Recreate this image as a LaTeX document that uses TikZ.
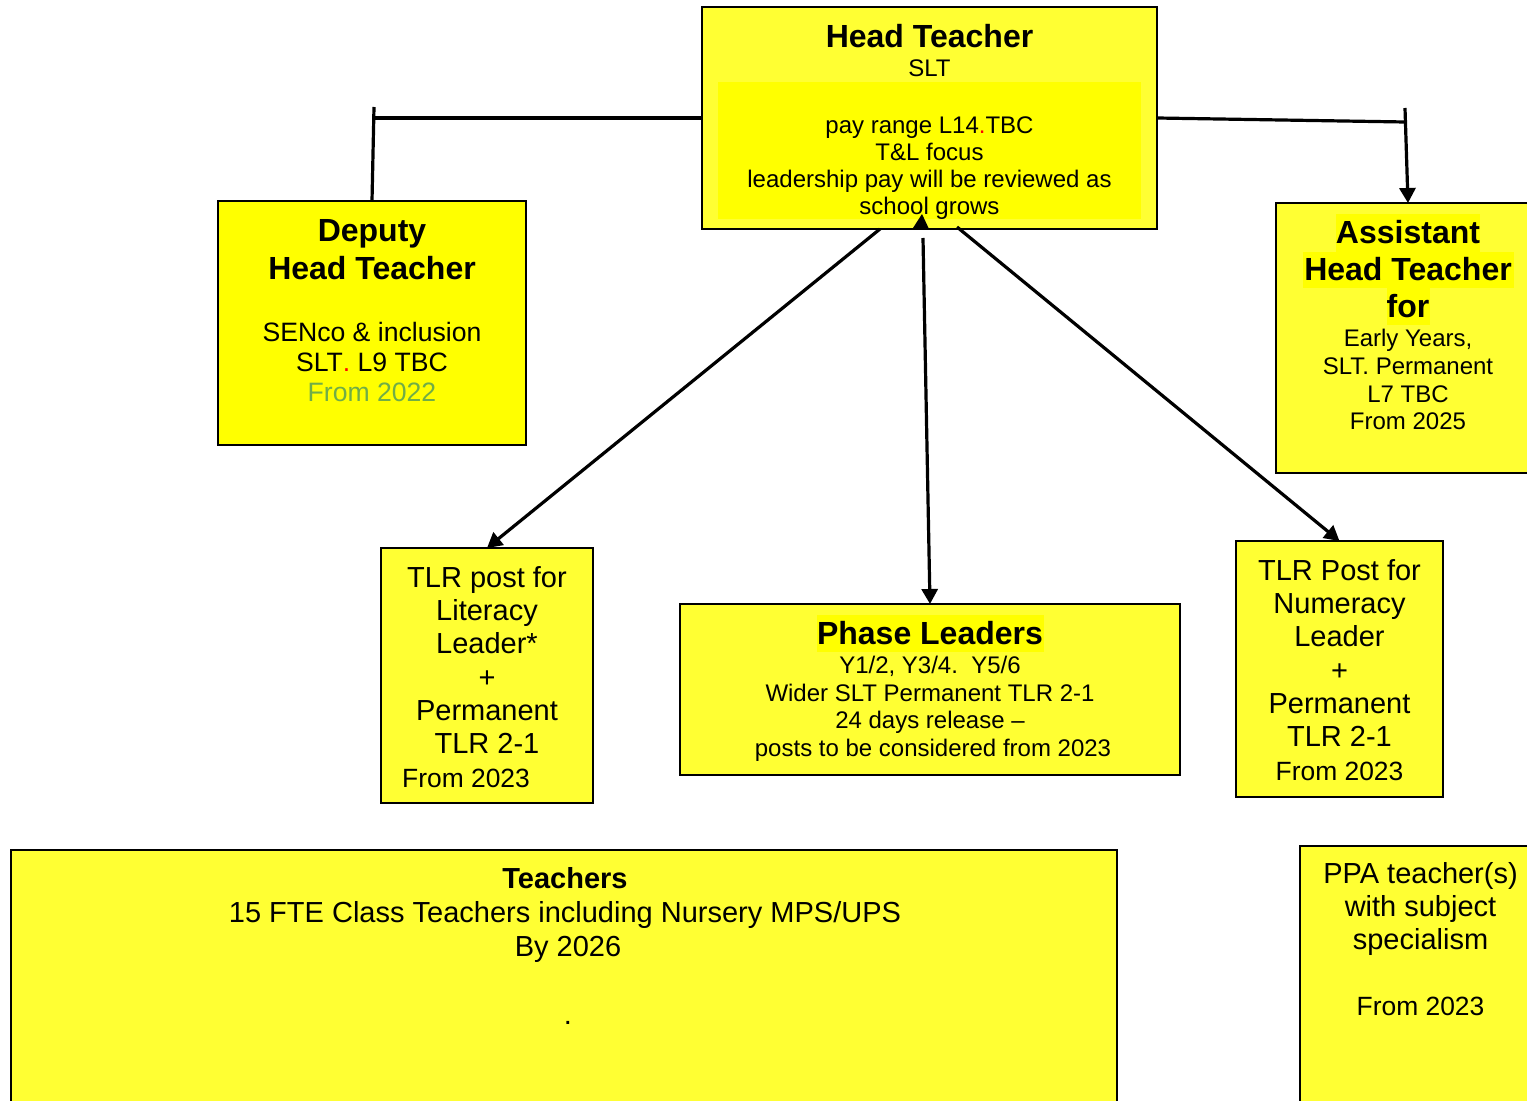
\documentclass[tikz,border=0pt]{standalone}
\usepackage{fontspec}
\setmainfont{Liberation Sans}
\usetikzlibrary{arrows.meta}
\definecolor{lighty}{RGB}{255,255,51}
\definecolor{hiy}{RGB}{255,255,0}
\definecolor{fromgreen}{RGB}{112,173,71}
\begin{document}
\begin{tikzpicture}[x=0.5pt,y=-0.5pt,
  box/.style={draw=black,line width=1pt,inner sep=0pt,outer sep=0pt},
  lbox/.style={box,fill=lighty},
  ybox/.style={box,fill=hiy},
  txt/.style={inner sep=0pt,outer sep=0pt,align=center,anchor=base},
  conn/.style={line width=1.6pt},
  arr/.style={conn,-{Triangle[length=7.5pt,width=8pt]}}
]
\clip (0,0) rectangle (1527,1101);

% Head Teacher
\node[lbox, minimum width=227.5pt, minimum height=111pt] (ht) at (929.5,118) {};
\fill[hiy] (718,82) rectangle (1141,219);
\node[txt, font=\fontsize{16}{18.5}\selectfont\bfseries] (ht1) at (929.5,48) {Head Teacher};
\node[txt, font=\fontsize{12}{13.8}\selectfont] (ht2) at (929.5,77) {SLT};
\node[txt, font=\fontsize{12}{13.65}\selectfont] (ht3) at (929.5,215) {pay range L14\textcolor{red}{.}TBC\\T\&L focus\\leadership pay will be reviewed as\\school grows};

% Deputy
\node[ybox, minimum width=154pt, minimum height=122pt] (dep) at (372,323) {};
\node[txt, font=\fontsize{16}{18.75}\selectfont\bfseries] (dep1) at (372,279.5) {Deputy\\Head Teacher};
\node[txt, font=\fontsize{13.3}{15}\selectfont] (dep2) at (372,402) {SENco \& inclusion\\SLT\textcolor{red}{.} L9 TBC\\\textcolor{fromgreen}{From 2022}};

% Assistant
\node[lbox, minimum width=132pt, minimum height=135pt] (ast) at (1408,338) {};
\fill[hiy] (1336,214) rectangle (1480,252);
\fill[hiy] (1303,252) rectangle (1514,288);
\fill[hiy] (1387,288) rectangle (1430,325);
\node[txt, font=\fontsize{16}{18.5}\selectfont\bfseries] (ast1) at (1408,318) {Assistant\\Head Teacher\\for};
\node[txt, font=\fontsize{12}{13.85}\selectfont] (ast2) at (1408,430) {Early Years,\\SLT. Permanent\\L7 TBC\\From 2025};

% Literacy
\node[lbox, minimum width=106pt, minimum height=127.5pt] (lit) at (487,675.5) {};
\node[txt, font=\fontsize{14.5}{16.65}\selectfont] (lit1) at (487,787) {TLR post for\\Literacy\\Leader*\\+\\Permanent\\TLR 2-1\\{\fontsize{13.2}{16.65}\selectfont From 2023\kern21pt}};

% Phase leaders
\node[lbox, minimum width=250pt, minimum height=85.5pt] (pl) at (930,689.5) {};
\fill[hiy] (817,615) rectangle (1044,652);
\node[txt, font=\fontsize{16}{18.5}\selectfont\bfseries] (pl1) at (930,645) {Phase Leaders};
\node[txt, font=\fontsize{12}{13.85}\selectfont] (pl2) at (930,756.5) {Y1/2, Y3/4.\ \ Y5/6\\Wider SLT Permanent TLR 2-1\\24 days release \textendash\\\kern3pt posts to be considered from 2023};

% Numeracy
\node[lbox, minimum width=103.5pt, minimum height=128pt] (num) at (1339.5,669) {};
\node[txt, font=\fontsize{14.5}{16.65}\selectfont] (num1) at (1339.5,780) {TLR Post for\\Numeracy\\Leader\\+\\Permanent\\TLR 2-1\\{\fontsize{13.2}{16.65}\selectfont From 2023}};

% Teachers
\node[lbox, minimum width=553pt, minimum height=135pt] (tch) at (564,985) {};
\node[txt, font=\fontsize{14.5}{17}\selectfont] (tch1) at (565,1024) {\textbf{Teachers}\\15 FTE Class Teachers including Nursery MPS/UPS\\\kern3pt By 2026\\[17pt]\kern3pt .};

% PPA
\node[lbox, minimum width=120.5pt, minimum height=137pt] (ppa) at (1420.5,983) {};
\node[txt, font=\fontsize{14.5}{16.5}\selectfont] (ppa1) at (1420.5,1015) {PPA teacher(s)\\with subject\\specialism\\[16.5pt]{\fontsize{13.2}{16.5}\selectfont From 2023}};

% Connectors
\coordinate (lc) at (374,118);
\coordinate (lt) at (374,107);
\coordinate (rc) at (1405,122);
\coordinate (rt) at (1405,108);
\draw[conn] (ht.west) -- (lc);
\draw[conn] (lt) -- (dep.north);
\draw[conn] (ht.east) -- (rc);
\draw[arr] (rt) -- (ast.north);
\draw[arr] ([xshift=-24.75pt]ht.south) -- (lit.north);
\draw[arr] ([xshift=-3.25pt,yshift=-4.5pt]ht.south) -- (pl.north);
\draw[arr] ([xshift=13.75pt,yshift=1pt]ht.south) -- (num.north);
\fill (913,228) -- (929,229) -- (922,214) -- cycle;
\end{tikzpicture}
\end{document}
